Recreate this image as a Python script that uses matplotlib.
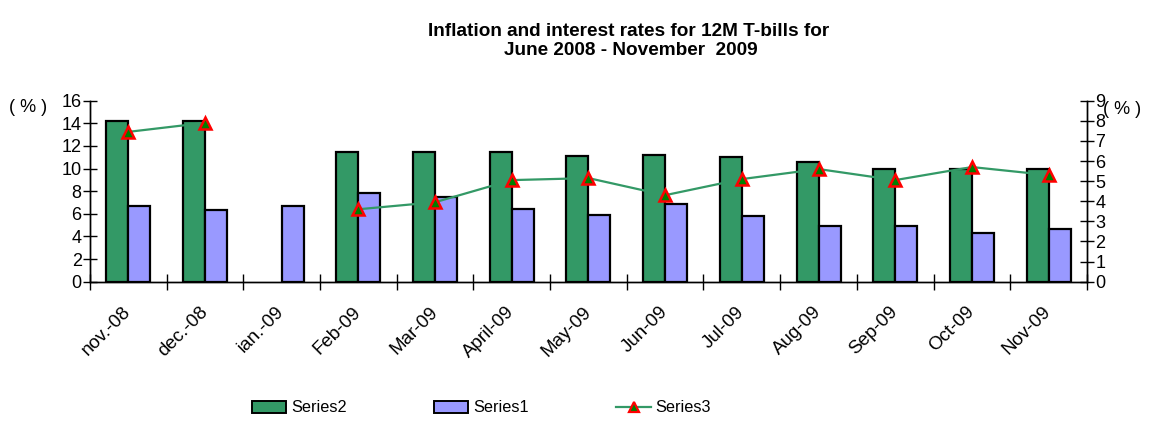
import numpy as np
import matplotlib
matplotlib.use("Agg")
import matplotlib.pyplot as plt
from matplotlib.patches import Patch
from matplotlib.lines import Line2D
from matplotlib.transforms import ScaledTranslation

plt.rcParams['font.family'] = ['Liberation Sans', 'DejaVu Sans']

months = ["nov.-08", "dec.-08", "ian.-09", "Feb-09", "Mar-09", "April-09", "May-09",
          "Jun-09", "Jul-09", "Aug-09", "Sep-09", "Oct-09", "Nov-09"]
series2 = [14.2, 14.2, np.nan, 11.5, 11.5, 11.5, 11.1, 11.2, 11.0, 10.6, 10.0, 10.0, 10.0]
series1 = [6.7, 6.3, 6.7, 7.8, 7.45, 6.45, 5.9, 6.9, 5.8, 4.95, 4.9, 4.3, 4.65]
series3 = [7.45, 7.9, np.nan, 3.6, 3.95, 5.05, 5.15, 4.3, 5.1, 5.6, 5.05, 5.7, 5.3]

green = "#339966"
blue = "#9999FF"

fig = plt.figure(figsize=(11.6, 4.28), dpi=100)
ax = fig.add_axes([0.0776, 0.342, 0.8594, 0.4227])
ax2 = ax.twinx()

x = np.arange(len(months))
w = 0.287
ax.bar(x - w / 2, series2, w, color=green, edgecolor="black", linewidth=1.6, zorder=2)
ax.bar(x + w / 2, series1, w, color=blue, edgecolor="black", linewidth=1.6, zorder=2)
ax2.plot(x, series3, color=green, linewidth=1.6, marker="^", markersize=8,
         markerfacecolor="#007F00", markeredgecolor="red", markeredgewidth=1.8, zorder=3)

ax.set_xlim(-0.5, len(months) - 0.5)
ax.set_ylim(0, 16)
ax2.set_ylim(0, 9)
ax.set_yticks(range(0, 17, 2))
ax2.set_yticks(range(0, 10))

ax.set_xticks(np.arange(-0.5, len(months), 1.0))
ax.set_xticklabels([])
ax.set_xticks(x, minor=True)
ax.set_xticklabels(months, minor=True, rotation=45, ha="right", va="center",
                   rotation_mode="anchor", fontsize=13.5)
shift = ScaledTranslation(-0.16, 0, fig.dpi_scale_trans)
for lab in ax.get_xticklabels(minor=True):
    lab.set_transform(lab.get_transform() + shift)
ax.tick_params(axis="x", which="minor", length=0, pad=20)
ax.tick_params(axis="x", which="major", direction="inout", length=11, width=1)
ax.tick_params(axis="y", direction="inout", length=10, width=1, labelsize=13, pad=1)
ax2.tick_params(axis="y", direction="inout", length=10, width=1, labelsize=13, pad=1)

for a in (ax, ax2):
    a.spines["top"].set_visible(False)
    for s in ("left", "right", "bottom"):
        a.spines[s].set_linewidth(1)

fig.text(0.542, 0.926, "Inflation and interest rates for 12M T-bills for",
         ha="center", va="center", fontsize=13.7, fontweight="bold")
fig.text(0.544, 0.883, "June 2008 - November  2009",
         ha="center", va="center", fontsize=13.7, fontweight="bold")
fig.text(0.008, 0.750, "( % )", ha="left", va="center", fontsize=13)
fig.text(0.951, 0.743, "( % )", ha="left", va="center", fontsize=13)

handles = [
    Patch(facecolor=green, edgecolor="black", linewidth=1.4),
    Patch(facecolor=blue, edgecolor="black", linewidth=1.4),
    Line2D([0], [0], color=green, linewidth=1.6, marker="^", markersize=7,
           markerfacecolor="#007F00", markeredgecolor="red", markeredgewidth=1.6),
]
fig.legend(handles, ["Series2", "Series1", "Series3"], loc="center",
           bbox_to_anchor=(0.415, 0.047), ncol=3, frameon=False, fontsize=11.7,
           handlelength=2.1, handleheight=0.74, handletextpad=0.3, columnspacing=5.4)

fig.savefig("out.png", dpi=100)
